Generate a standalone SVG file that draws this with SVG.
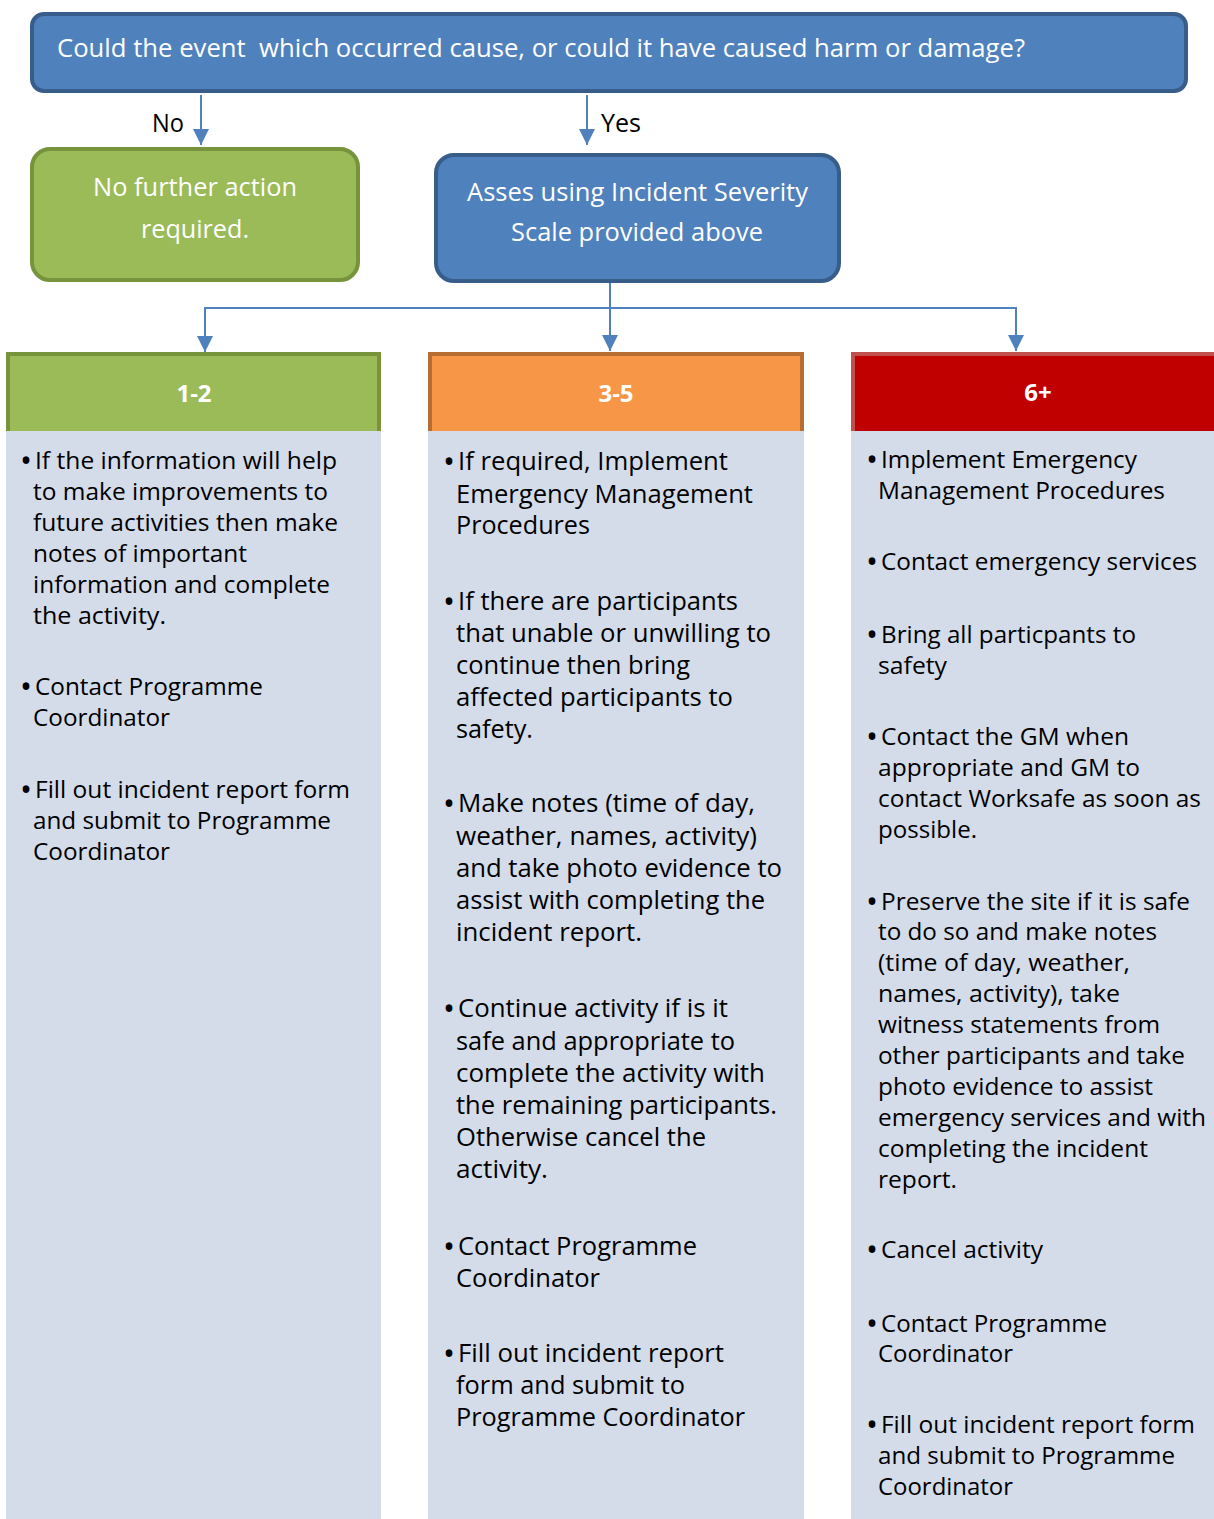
<svg xmlns="http://www.w3.org/2000/svg" width="1214" height="1519" viewBox="0 0 1214 1519">
<style>
text{font-family:"Open Sans","Liberation Sans",sans-serif}
.w{fill:#fff}
.k{fill:#000}
.b1{font-size:24.5px;fill:#000}
.b2{font-size:25.5px;fill:#000}
.bu{font-size:32px;fill:#000}
.hdr{font-weight:bold;font-size:24px;fill:#fff;text-anchor:middle}
.mid{text-anchor:middle}
.conn{stroke:#4F81BD;stroke-width:2;fill:none}
.panel{fill:#D4DCEA}
</style>
<defs>
<marker id="ah" viewBox="0 0 16 16" markerWidth="16" markerHeight="16" markerUnits="userSpaceOnUse" refX="16" refY="8" orient="auto">
<path d="M0,0 L16,8 L0,16 z" fill="#4F81BD"/>
</marker>
</defs>
<rect width="1214" height="1519" fill="#fff"/>

<g id="question">
<rect x="32" y="14" width="1154" height="77" rx="12" fill="#4F81BD" stroke="#385D8A" stroke-width="4"/>
<text class="w" x="57" y="57" font-size="26" textLength="968" lengthAdjust="spacingAndGlyphs" xml:space="preserve">Could the event  which occurred cause, or could it have caused harm or damage?</text>
</g>

<g id="no-action">
<rect x="32" y="149" width="326" height="131" rx="18" fill="#9BBB59" stroke="#77933C" stroke-width="4"/>
<text class="w mid" x="195" y="196" font-size="25" textLength="204" lengthAdjust="spacingAndGlyphs">No further action</text>
<text class="w mid" x="195" y="238" font-size="25" textLength="108" lengthAdjust="spacingAndGlyphs">required.</text>
</g>

<g id="assess">
<rect x="436" y="155" width="403" height="126" rx="18" fill="#4F81BD" stroke="#385D8A" stroke-width="4"/>
<text class="w mid" x="637.5" y="201" font-size="25" textLength="341" lengthAdjust="spacingAndGlyphs">Asses using Incident Severity</text>
<text class="w mid" x="637" y="241" font-size="25" textLength="252" lengthAdjust="spacingAndGlyphs">Scale provided above</text>
</g>

<g id="connectors">
<line class="conn" x1="201" y1="95" x2="201" y2="145" marker-end="url(#ah)"/>
<line class="conn" x1="587" y1="95" x2="587" y2="145" marker-end="url(#ah)"/>
<line class="conn" x1="610" y1="283" x2="610" y2="351" marker-end="url(#ah)"/>
<path class="conn" d="M205,308 H1016"/>
<line class="conn" x1="205" y1="307" x2="205" y2="352" marker-end="url(#ah)"/>
<line class="conn" x1="1016" y1="307" x2="1016" y2="351" marker-end="url(#ah)"/>
<text class="k" x="152" y="132" font-size="25" textLength="32" lengthAdjust="spacingAndGlyphs">No</text>
<text class="k" x="601" y="132" font-size="25" textLength="40" lengthAdjust="spacingAndGlyphs">Yes</text>
</g>

<g id="col-1-2">
<rect x="8" y="354" width="371" height="82" fill="#9BBB59" stroke="#77933C" stroke-width="4"/>
<text class="hdr" x="194" y="402">1-2</text>
<rect class="panel" x="6" y="431" width="375" height="1088"/>
<text class="bu" x="20" y="472">•</text>
<text class="b1" x="35" y="469" textLength="302" lengthAdjust="spacingAndGlyphs">If the information will help</text>
<text class="b1" x="33" y="500" textLength="295" lengthAdjust="spacingAndGlyphs">to make improvements to</text>
<text class="b1" x="33" y="531" textLength="305" lengthAdjust="spacingAndGlyphs">future activities then make</text>
<text class="b1" x="33" y="562" textLength="214" lengthAdjust="spacingAndGlyphs">notes of important</text>
<text class="b1" x="33" y="593" textLength="297" lengthAdjust="spacingAndGlyphs">information and complete</text>
<text class="b1" x="33" y="624" textLength="133" lengthAdjust="spacingAndGlyphs">the activity.</text>
<text class="bu" x="20" y="698">•</text>
<text class="b1" x="35" y="695" textLength="228" lengthAdjust="spacingAndGlyphs">Contact Programme</text>
<text class="b1" x="33" y="726" textLength="137" lengthAdjust="spacingAndGlyphs">Coordinator</text>
<text class="bu" x="20" y="801">•</text>
<text class="b1" x="35" y="798" textLength="315" lengthAdjust="spacingAndGlyphs">Fill out incident report form</text>
<text class="b1" x="33" y="829" textLength="298" lengthAdjust="spacingAndGlyphs">and submit to Programme</text>
<text class="b1" x="33" y="860" textLength="137" lengthAdjust="spacingAndGlyphs">Coordinator</text>
</g>

<g id="col-3-5">
<rect x="430" y="354" width="372" height="82" fill="#F79646" stroke="#B66D31" stroke-width="4"/>
<text class="hdr" x="616" y="402">3-5</text>
<rect class="panel" x="428" y="431" width="376" height="1088"/>
<text class="bu" x="443" y="473">•</text>
<text class="b2" x="458" y="470" textLength="270" lengthAdjust="spacingAndGlyphs">If required, Implement</text>
<text class="b2" x="456" y="503" textLength="297" lengthAdjust="spacingAndGlyphs">Emergency Management</text>
<text class="b2" x="456" y="534" textLength="134" lengthAdjust="spacingAndGlyphs">Procedures</text>
<text class="bu" x="443" y="613">•</text>
<text class="b2" x="458" y="610" textLength="280" lengthAdjust="spacingAndGlyphs">If there are participants</text>
<text class="b2" x="456" y="642" textLength="315" lengthAdjust="spacingAndGlyphs">that unable or unwilling to</text>
<text class="b2" x="456" y="674" textLength="234" lengthAdjust="spacingAndGlyphs">continue then bring</text>
<text class="b2" x="456" y="706" textLength="277" lengthAdjust="spacingAndGlyphs">affected participants to</text>
<text class="b2" x="456" y="738" textLength="77" lengthAdjust="spacingAndGlyphs">safety.</text>
<text class="bu" x="443" y="815">•</text>
<text class="b2" x="458" y="812" textLength="297" lengthAdjust="spacingAndGlyphs">Make notes (time of day,</text>
<text class="b2" x="456" y="845" textLength="301" lengthAdjust="spacingAndGlyphs">weather, names, activity)</text>
<text class="b2" x="456" y="877" textLength="326" lengthAdjust="spacingAndGlyphs">and take photo evidence to</text>
<text class="b2" x="456" y="909" textLength="309" lengthAdjust="spacingAndGlyphs">assist with completing the</text>
<text class="b2" x="456" y="941" textLength="186" lengthAdjust="spacingAndGlyphs">incident report.</text>
<text class="bu" x="443" y="1020">•</text>
<text class="b2" x="458" y="1017" textLength="270" lengthAdjust="spacingAndGlyphs">Continue activity if is it</text>
<text class="b2" x="456" y="1050" textLength="279" lengthAdjust="spacingAndGlyphs">safe and appropriate to</text>
<text class="b2" x="456" y="1082" textLength="309" lengthAdjust="spacingAndGlyphs">complete the activity with</text>
<text class="b2" x="456" y="1114" textLength="321" lengthAdjust="spacingAndGlyphs">the remaining participants.</text>
<text class="b2" x="456" y="1146" textLength="250" lengthAdjust="spacingAndGlyphs">Otherwise cancel the</text>
<text class="b2" x="456" y="1178" textLength="92" lengthAdjust="spacingAndGlyphs">activity.</text>
<text class="bu" x="443" y="1258">•</text>
<text class="b2" x="458" y="1255" textLength="239" lengthAdjust="spacingAndGlyphs">Contact Programme</text>
<text class="b2" x="456" y="1287" textLength="144" lengthAdjust="spacingAndGlyphs">Coordinator</text>
<text class="bu" x="443" y="1365">•</text>
<text class="b2" x="458" y="1362" textLength="266" lengthAdjust="spacingAndGlyphs">Fill out incident report</text>
<text class="b2" x="456" y="1394" textLength="229" lengthAdjust="spacingAndGlyphs">form and submit to</text>
<text class="b2" x="456" y="1426" textLength="289" lengthAdjust="spacingAndGlyphs">Programme Coordinator</text>
</g>

<g id="col-6plus">
<rect x="853" y="354" width="365" height="82" fill="#C00000" stroke="#C0504D" stroke-width="4"/>
<text class="hdr" x="1038" y="401">6+</text>
<rect class="panel" x="851" y="431" width="363" height="1088"/>
<text class="bu" x="866" y="471">•</text>
<text class="b1" x="881" y="468" textLength="256" lengthAdjust="spacingAndGlyphs">Implement Emergency</text>
<text class="b1" x="878" y="499" textLength="287" lengthAdjust="spacingAndGlyphs">Management Procedures</text>
<text class="bu" x="866" y="573">•</text>
<text class="b1" x="881" y="570" textLength="316" lengthAdjust="spacingAndGlyphs">Contact emergency services</text>
<text class="bu" x="866" y="646">•</text>
<text class="b1" x="881" y="643" textLength="255" lengthAdjust="spacingAndGlyphs">Bring all particpants to</text>
<text class="b1" x="878" y="674" textLength="69" lengthAdjust="spacingAndGlyphs">safety</text>
<text class="bu" x="866" y="748">•</text>
<text class="b1" x="881" y="745" textLength="248" lengthAdjust="spacingAndGlyphs">Contact the GM when</text>
<text class="b1" x="878" y="776" textLength="262" lengthAdjust="spacingAndGlyphs">appropriate and GM to</text>
<text class="b1" x="878" y="807" textLength="323" lengthAdjust="spacingAndGlyphs">contact Worksafe as soon as</text>
<text class="b1" x="878" y="838" textLength="99" lengthAdjust="spacingAndGlyphs">possible.</text>
<text class="bu" x="866" y="913">•</text>
<text class="b1" x="881" y="910" textLength="309" lengthAdjust="spacingAndGlyphs">Preserve the site if it is safe</text>
<text class="b1" x="878" y="940" textLength="279" lengthAdjust="spacingAndGlyphs">to do so and make notes</text>
<text class="b1" x="878" y="971" textLength="252" lengthAdjust="spacingAndGlyphs">(time of day, weather,</text>
<text class="b1" x="878" y="1002" textLength="242" lengthAdjust="spacingAndGlyphs">names, activity), take</text>
<text class="b1" x="878" y="1033" textLength="282" lengthAdjust="spacingAndGlyphs">witness statements from</text>
<text class="b1" x="878" y="1064" textLength="307" lengthAdjust="spacingAndGlyphs">other participants and take</text>
<text class="b1" x="878" y="1095" textLength="275" lengthAdjust="spacingAndGlyphs">photo evidence to assist</text>
<text class="b1" x="878" y="1126" textLength="328" lengthAdjust="spacingAndGlyphs">emergency services and with</text>
<text class="b1" x="878" y="1157" textLength="270" lengthAdjust="spacingAndGlyphs">completing the incident</text>
<text class="b1" x="878" y="1188" textLength="79" lengthAdjust="spacingAndGlyphs">report.</text>
<text class="bu" x="866" y="1261">•</text>
<text class="b1" x="881" y="1258" textLength="162" lengthAdjust="spacingAndGlyphs">Cancel activity</text>
<text class="bu" x="866" y="1335">•</text>
<text class="b1" x="881" y="1332" textLength="226" lengthAdjust="spacingAndGlyphs">Contact Programme</text>
<text class="b1" x="878" y="1362" textLength="135" lengthAdjust="spacingAndGlyphs">Coordinator</text>
<text class="bu" x="866" y="1436">•</text>
<text class="b1" x="881" y="1433" textLength="314" lengthAdjust="spacingAndGlyphs">Fill out incident report form</text>
<text class="b1" x="878" y="1464" textLength="297" lengthAdjust="spacingAndGlyphs">and submit to Programme</text>
<text class="b1" x="878" y="1495" textLength="135" lengthAdjust="spacingAndGlyphs">Coordinator</text>
</g>
</svg>
